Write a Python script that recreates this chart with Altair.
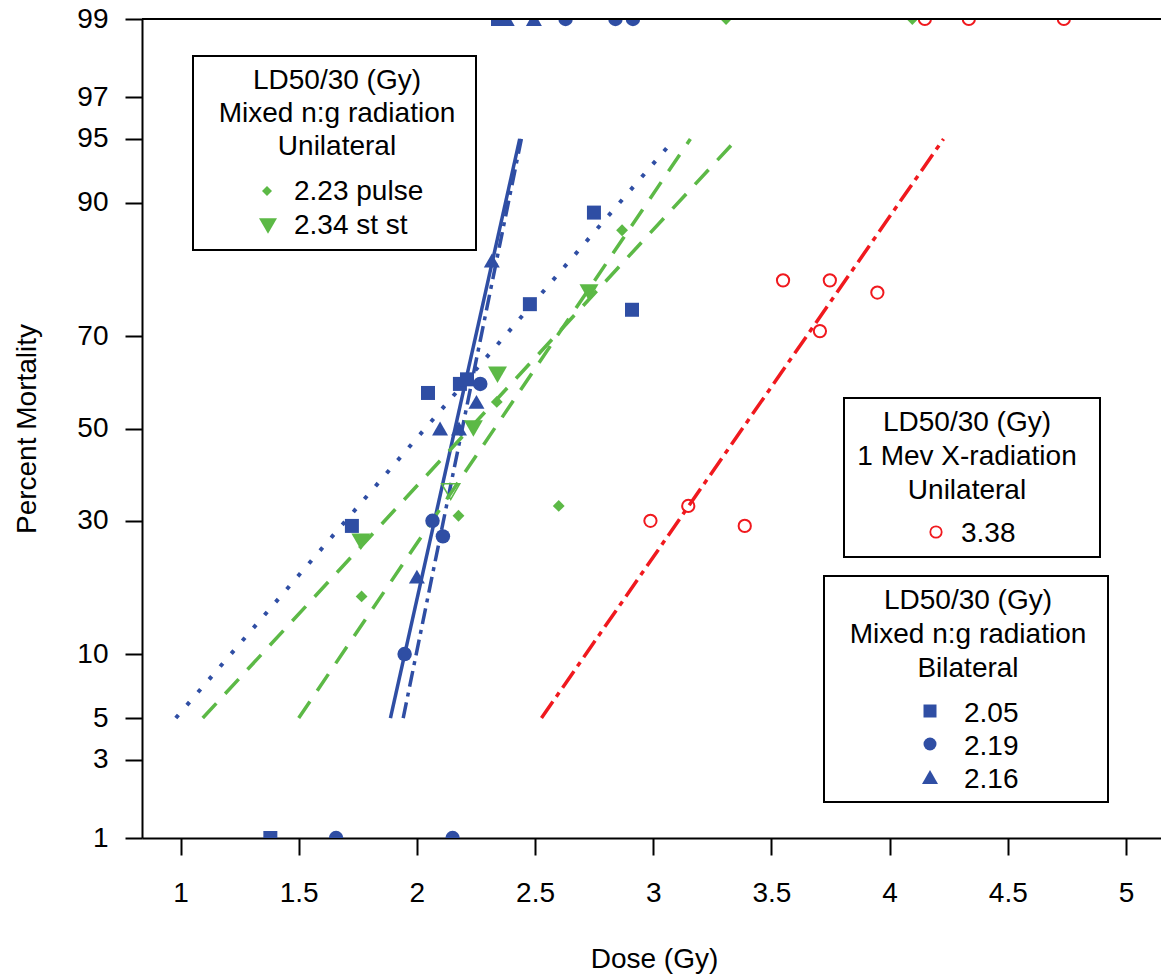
import altair as alt
import pandas as pd
from statistics import NormalDist

# ---------------- data ----------------
# Mixed n:g radiation, bilateral (blue)
bil_sq_dose = [1.38, 1.725, 2.047, 2.182, 2.212, 2.478, 2.749, 2.91, 2.343]
bil_sq_pct = [1, 29, 58, 60, 61, 76, 89, 75, 99]
bil_ci_dose = [1.658, 2.151, 1.948, 2.066, 2.11, 2.268, 2.629, 2.84, 2.914]
bil_ci_pct = [1, 1, 10, 30, 27, 60, 99, 99, 99]
bil_tr_dose = [2.0, 2.098, 2.178, 2.252, 2.317, 2.38, 2.495]
bil_tr_pct = [20, 50, 50, 56, 83, 99, 99]

# Mixed n:g radiation, unilateral (green)
pulse_dose = [1.766, 2.176, 2.338, 2.6, 2.868, 3.308, 4.096]
pulse_pct = [17, 31, 56, 33, 87, 99, 99]
stst_dose = [1.763, 2.239, 2.341, 2.728]
stst_pct = [26, 50, 62, 78]
stst_open_dose = [2.143]
stst_open_pct = [36]

# 1 MeV X-radiation, unilateral (red)
xray_dose = [2.988, 3.148, 3.387, 3.549, 3.705, 3.747, 3.948, 4.149, 4.335, 4.737]
xray_pct = [30, 33, 29, 80, 71, 80, 78, 99, 99, 99]

# probit fit lines: end points (dose, percent)
fit_sq_dose, fit_sq_pct = [0.98, 3.09], [5, 95]
fit_tr_dose, fit_tr_pct = [1.888, 2.435], [5, 95]
fit_ci_dose, fit_ci_pct = [1.942, 2.442], [5, 95]
fit_pulse_dose, fit_pulse_pct = [1.094, 3.354], [5, 95]
fit_stst_dose, fit_stst_pct = [1.5, 3.157], [5, 95]
fit_xray_dose, fit_xray_pct = [2.527, 4.228], [5, 95]

# legend texts
leg1_title = ["LD50/30 (Gy)", "Mixed n:g radiation", "Unilateral"]
leg1_items = ["2.23 pulse", "2.34 st st"]
leg2_title = ["LD50/30 (Gy)", "1 Mev X-radiation", "Unilateral"]
leg2_items = ["3.38"]
leg3_title = ["LD50/30 (Gy)", "Mixed n:g radiation", "Bilateral"]
leg3_items = ["2.05", "2.19", "2.16"]

y_tick_pct = [1, 3, 5, 10, 30, 50, 70, 90, 95, 97, 99]
x_ticks = [1, 1.5, 2, 2.5, 3, 3.5, 4, 4.5, 5]

# ---------------- styling ----------------
BLUE = "#2F4EA4"
GREEN = "#5CB946"
RED = "#F0191E"
FONT = "Liberation Sans"
FS = 28
W, H = 1019, 819
OX, OY = 142, 19  # plot origin in page pixels

nd = NormalDist()
Z_LO, Z_HI = nd.inv_cdf(0.01), nd.inv_cdf(0.99)
y_tick_z = [nd.inv_cdf(p / 100) for p in y_tick_pct]

xscale = alt.Scale(domain=[0.837, 5.148], nice=False, zero=False)
yscale = alt.Scale(domain=[Z_LO, Z_HI], nice=False, zero=False)

xaxis = alt.Axis(
    values=x_ticks, format=".1~f", title="Dose (Gy)", grid=False,
    domainColor="black", domainWidth=2, tickColor="black", tickWidth=2, tickSize=17,
    labelFont=FONT, labelFontSize=FS, labelColor="black", labelPadding=24,
    labelFlush=False, labelOverlap=False,
    titleFont=FONT, titleFontSize=FS, titleColor="black", titleFontWeight="normal",
    titleX=512, titleY=129, titleAlign="center", titleBaseline="alphabetic",
)
yaxis = alt.Axis(
    values=y_tick_z, labelExpr="format(cumulativeNormal(datum.value) * 100, '.0f')",
    title="Percent Mortality", grid=False,
    domainColor="black", domainWidth=2, tickColor="black", tickWidth=2, tickSize=17,
    labelFont=FONT, labelFontSize=FS, labelColor="black", labelPadding=17,
    labelFlush=False, labelOverlap=False,
    titleFont=FONT, titleFontSize=FS, titleColor="black", titleFontWeight="normal",
    titleAngle=270, titleX=-107, titleY=409.5, titleAlign="center", titleBaseline="alphabetic",
)

X_ENC = alt.X("dose:Q", scale=xscale, axis=xaxis)
Y_ENC = alt.Y("z:Q", scale=yscale, axis=yaxis)


def frame(dose, pct):
    return pd.DataFrame({"dose": dose, "pct": pct})


def points(dose, pct, shape, color, size, filled=True, sw=1.5):
    if filled:
        mk = dict(shape=shape, filled=True, color=color, size=size, opacity=1, clip=True, strokeWidth=0)
    else:
        mk = dict(shape=shape, filled=False, stroke=color, strokeWidth=sw, size=size, opacity=1, clip=True)
    return (
        alt.Chart(frame(dose, pct))
        .transform_calculate(z="quantileNormal(datum.pct / 100)")
        .mark_point(**mk)
        .encode(x=X_ENC, y=Y_ENC)
    )


def fit(dose, pct, color, dash=None, width=3.5):
    kw = dict(color=color, strokeWidth=width, clip=True)
    if dash:
        kw["strokeDash"] = dash
    return (
        alt.Chart(frame(dose, pct))
        .transform_calculate(z="quantileNormal(datum.pct / 100)")
        .mark_line(**kw)
        .encode(x=X_ENC, y=Y_ENC)
    )


one = pd.DataFrame({"k": [0]})


def box(x0, y0, x1, y1):
    return alt.Chart(one).mark_rect(fill="white", stroke="black", strokeWidth=2).encode(
        x=alt.value(x0 - OX), x2=alt.value(x1 - OX), y=alt.value(y0 - OY), y2=alt.value(y1 - OY)
    )


def label(txt, x, y, align="center"):
    return alt.Chart(one).mark_text(
        text=txt, align=align, baseline="alphabetic", font=FONT, fontSize=FS, color="black"
    ).encode(x=alt.value(x - OX), y=alt.value(y - OY))


def sym(shape, color, size, x, y, filled=True):
    if filled:
        mk = dict(shape=shape, filled=True, color=color, size=size, opacity=1, strokeWidth=0)
    else:
        mk = dict(shape=shape, filled=False, stroke=color, strokeWidth=1.8, size=size, opacity=1)
    return alt.Chart(one).mark_point(**mk).encode(x=alt.value(x - OX), y=alt.value(y - OY))


layers = []
# fitted probit lines
layers.append(fit(fit_sq_dose, fit_sq_pct, BLUE, [4, 13], 4))
layers.append(fit(fit_tr_dose, fit_tr_pct, BLUE, None, 3.5))
layers.append(fit(fit_ci_dose, fit_ci_pct, BLUE, [16, 6, 4, 6], 3.5))
layers.append(fit(fit_pulse_dose, fit_pulse_pct, GREEN, [20, 13], 3.5))
layers.append(fit(fit_stst_dose, fit_stst_pct, GREEN, [20, 13], 3.5))
layers.append(fit(fit_xray_dose, fit_xray_pct, RED, [20, 6, 5, 6], 3.5))

# data points
layers.append(points(pulse_dose, pulse_pct, "diamond", GREEN, 140))
layers.append(points(stst_dose, stst_pct, "triangle-down", GREEN, 361))
layers.append(points(stst_open_dose, stst_open_pct, "triangle-down", GREEN, 330, filled=False, sw=1.5))
layers.append(points(xray_dose, xray_pct, "circle", RED, 150, filled=False, sw=2))
layers.append(points(bil_sq_dose, bil_sq_pct, "square", BLUE, 196))
layers.append(points(bil_ci_dose, bil_ci_pct, "circle", BLUE, 210))
layers.append(points(bil_tr_dose, bil_tr_pct, "triangle-up", BLUE, 256))

# top frame line
layers.append(
    alt.Chart(one).mark_rule(color="black", strokeWidth=2).encode(
        x=alt.value(0), x2=alt.value(W), y=alt.value(0)
    )
)

# legend box 1 : mixed n:g unilateral
layers.append(box(193, 56, 476, 250))
for i, t in enumerate(leg1_title):
    layers.append(label(t, 337, 89 + 33 * i))
layers.append(sym("diamond", GREEN, 100, 267, 191))
layers.append(label(leg1_items[0], 294, 200, "left"))
layers.append(sym("triangle-down", GREEN, 324, 268, 226))
layers.append(label(leg1_items[1], 294, 234, "left"))

# legend box 2 : X-radiation
layers.append(box(844, 398, 1100, 557))
for i, t in enumerate(leg2_title):
    layers.append(label(t, 967, 431 + 34 * i))
layers.append(sym("circle", RED, 130, 936, 532, filled=False))
layers.append(label(leg2_items[0], 961, 542, "left"))

# legend box 3 : mixed n:g bilateral
layers.append(box(824, 576, 1108, 802))
for i, t in enumerate(leg3_title):
    layers.append(label(t, 968, 609 + 34 * i))
leg3_syms = [("square", 169), ("circle", 169), ("triangle-up", 256)]
for i, (t, (shp, sz)) in enumerate(zip(leg3_items, leg3_syms)):
    layers.append(sym(shp, BLUE, sz, 930, 711 + 33 * i))
    layers.append(label(t, 964, 722 + 33 * i, "left"))

chart = (
    alt.layer(*layers)
    .properties(
        width=W,
        height=H,
        autosize=alt.AutoSizeParams(type="none"),
        padding={"left": OX, "top": OY, "right": 0, "bottom": 975 - OY - H},
        background="white",
    )
    .configure_view(stroke=None)
    .configure(font=FONT)
)

chart.save("out.html", embed_options={"renderer": "svg", "actions": False})
